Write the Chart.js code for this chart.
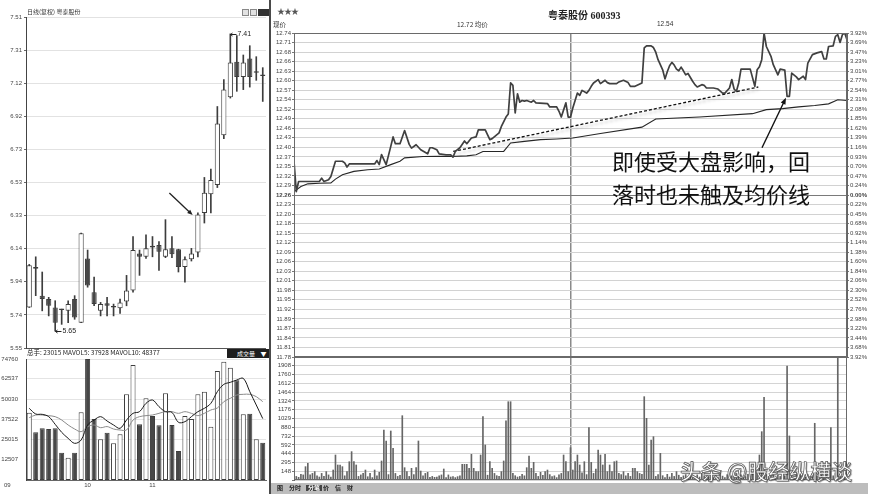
<!DOCTYPE html>
<html lang="zh-CN">
<head>
<meta charset="utf-8">
<title>粤泰股份 600393</title>
<script src="https://cdn.jsdelivr.net/npm/chart.js@4.4.1/dist/chart.umd.min.js"></script>
<style>
  html, body { margin: 0; padding: 0; background: #fff; }
  #board { position: relative; width: 877px; height: 494px; overflow: hidden; background: #fff;
           font-family: "Liberation Sans", Arial, "Noto Sans CJK SC", sans-serif; color: #333; }
  #board canvas { position: absolute; }
  .txt { position: absolute; white-space: nowrap; line-height: 1; }
  .cjk { font-family: "Noto Sans CJK SC", sans-serif; }
  .rule { position: absolute; background: #4a4a4a; }
  .icon { position: absolute; top: 9px; width: 7px; height: 7px; border: 1px solid #888; background: #e2e2e2; box-sizing: border-box; }
  #toolbar { position: absolute; left: 271px; top: 483px; width: 597px; height: 11px; background: #bdbdbd; }
  #toolbar span { position: absolute; top: 2px; font: bold 6px "Noto Sans CJK SC", sans-serif; color: #222; line-height: 1; }
  .note { position: absolute; white-space: nowrap; line-height: 1; font: 22px "Noto Sans CJK SC", sans-serif; color: #111; }
  .mark { position: absolute; white-space: nowrap; line-height: 1; font: 500 21px "Noto Sans CJK SC", sans-serif;
          color: #fff; -webkit-text-stroke: 0.7px #555; text-shadow: 1px 1px 1px rgba(0,0,0,0.45); }
</style>
</head>
<body>
<div id="board">
  <canvas id="kline" width="270" height="356" style="left:0;top:0"></canvas>
  <canvas id="kvol" width="270" height="145" style="left:0;top:349px"></canvas>
  <canvas id="tick" width="607" height="360" style="left:270px;top:0"></canvas>
  <canvas id="tvol" width="607" height="131" style="left:270px;top:352px"></canvas>

  <!-- daily panel headers -->
  <div class="txt cjk" style="left:27px;top:9px;font-size:6px;color:#333">日线(复权) 粤泰股份</div>
  <div class="icon" style="left:242px"></div>
  <div class="icon" style="left:250px"></div>
  <div class="icon" style="left:258px;width:11px;background:#333;border-color:#333"></div>
  <div id="volHeader" class="txt cjk" style="left:27px;top:349px;font-size:6.5px;color:#222"></div>
  <div class="txt cjk" style="left:227px;top:349px;width:42px;height:9px;background:#1e1e1e;color:#fff;font-size:6px;padding:1.5px 0 0 10px;box-sizing:border-box">成交量 &nbsp;&nbsp;&nbsp;▼</div>
  <div class="txt" style="left:4px;top:482px;font-size:6px;color:#444">09</div>

  <div class="rule" style="left:269px;top:0;width:2px;height:494px"></div>

  <!-- intraday panel headers -->
  <div class="txt" style="left:277px;top:8px;font-size:8px;color:#555;letter-spacing:-1px">★★★</div>
  <div class="txt" style="left:548px;top:7px;font:bold 10px 'Liberation Serif','Noto Sans CJK SC',serif;color:#222">粤泰股份 600393</div>
  <div class="txt cjk" style="left:273px;top:21px;font-size:6.5px;color:#333">现价</div>
  <div id="lastHeader" class="txt cjk" style="left:457px;top:21px;font-size:6.5px;color:#333"></div>
  <div id="avgHeader" class="txt" style="left:657px;top:21px;font-size:6.5px;color:#333"></div>

  <div class="note" style="left:612px;top:144px">即使受大盘影响，回</div>
  <div class="note" style="left:612px;top:177px">落时也未触及均价线</div>

  <div id="toolbar">
    <span style="left:6px">图</span>
    <span style="left:18px">分时</span>
    <span style="left:35px;background:#444;color:#fff;padding:0 2px">分笔</span>
    <span style="left:52px">价</span>
    <span style="left:64px">信</span>
    <span style="left:76px">财</span>
  </div>

  <div class="mark" style="left:680px;top:455px">头条 @股经纵横谈</div>
</div>

<script>
// ---------- daily candles ----------
const klineOpen  = [5.79, 6.03, 5.86, 5.84, 5.79, 5.78, 5.77, 5.84, 5.70, 6.08, 5.88, 5.77, 5.815, 5.79, 5.785, 5.825, 5.89, 6.11, 6.09, 6.155, 6.16, 6.09, 6.14, 6.135, 6.03, 6.075, 6.115, 6.35, 6.46, 6.515, 6.81, 7.035, 7.245, 7.155, 7.265, 7.18, 7.17];
const klineHigh  = [6.045, 6.09, 6.00, 5.85, 5.83, 5.78, 5.83, 5.86, 6.23, 6.13, 5.97, 5.82, 5.85, 5.81, 5.84, 5.98, 6.21, 6.13, 6.22, 6.21, 6.18, 6.31, 6.21, 6.135, 6.09, 6.14, 6.35, 6.56, 6.61, 6.98, 7.14, 7.41, 7.40, 7.285, 7.34, 7.275, 7.21];
const klineLow   = [5.79, 5.86, 5.77, 5.74, 5.65, 5.69, 5.70, 5.72, 5.70, 5.91, 5.80, 5.74, 5.74, 5.74, 5.755, 5.80, 5.88, 5.98, 6.08, 6.09, 6.01, 6.085, 6.085, 6.00, 5.94, 6.065, 6.09, 6.29, 6.35, 6.50, 6.79, 7.03, 7.07, 7.08, 7.095, 7.135, 7.01];
const klineClose = [6.04, 6.02, 5.84, 5.80, 5.70, 5.775, 5.81, 5.73, 6.23, 5.92, 5.81, 5.81, 5.80, 5.792, 5.82, 5.89, 6.13, 6.09, 6.14, 6.145, 6.12, 6.135, 6.105, 6.03, 6.075, 6.11, 6.34, 6.47, 6.545, 6.88, 7.08, 7.24, 7.155, 7.24, 7.155, 7.185, 7.16];
const klineVolume = [41600, 29450, 31920, 31510, 31920, 16890, 13800, 16890, 41810, 74760, 37690, 25130, 29240, 22650, 28215, 52930, 71050, 34390, 50460, 39540, 33780, 53550, 33980, 17920, 39540, 37690, 52930, 54580, 32950, 67350, 73110, 69400, 61580, 40570, 40980, 25130, 23015];
const mavol5  = [44280, 40780, 40570, 39130, 34390, 29450, 25740, 22650, 24710, 33980, 37070, 39130, 36450, 33980, 31920, 37070, 41190, 42220, 47370, 49430, 45310, 42220, 41810, 35630, 36040, 39130, 42220, 44280, 47370, 54580, 59110, 60340, 61790, 62810, 54580, 46340, 37928];
const mavol10 = [38510, 40160, 40160, 39750, 39130, 37070, 33980, 31510, 29860, 32950, 33980, 32330, 33000, 31500, 30890, 30890, 37070, 39130, 39750, 40160, 41190, 42220, 42220, 41190, 42220, 41190, 39750, 41190, 43250, 44500, 48400, 50460, 52520, 52930, 52930, 51490, 48377];
const klinePriceLabels = ['5.55', '5.74', '5.94', '6.14', '6.33', '6.53', '6.73', '6.92', '7.12', '7.31', '7.51'];
const klineVolTicks = [12507, 25015, 37522, 50030, 62537, 74760];
const monthMarks = [[9, '10'], [19, '11']];
const klineArrowFrom = [21.6, 6.468];
const klineArrowTo = [25.2, 6.337];

// ---------- intraday (minute 0 = 09:30, 240 = 15:00) ----------
const priceMinutes = [0, 1, 2, 11, 12, 13, 15, 16, 18, 21, 22, 23, 24, 35, 36, 37, 38, 39, 40, 42, 43, 44, 46, 48, 50, 51, 53, 55, 58, 59, 60, 62, 63, 66, 68, 69, 70, 72, 74, 75, 77, 79, 80, 83, 85, 86, 89, 90, 92, 93, 94, 95, 96, 97, 98, 99, 100, 101, 103, 104, 105, 110, 111, 114, 115, 116, 118, 119, 120, 121, 122, 123, 124, 125, 127, 128, 129, 130, 132, 133, 135, 136, 137, 140, 141, 143, 145, 146, 148, 151, 152, 153, 155, 156, 157, 158, 160, 161, 162, 163, 164, 165, 166, 167, 168, 169, 170, 171, 173, 174, 175, 177, 178, 179, 182, 184, 186, 187, 189, 190, 191, 192, 193, 194, 198, 200, 201, 202, 203, 204, 205, 207, 208, 210, 211, 213, 214, 215, 216, 218, 219, 221, 222, 223, 225, 227, 229, 230, 231, 232, 234, 235, 236, 237, 238, 239, 240];
const priceValues  = [12.36, 12.27, 12.30, 12.30, 12.31, 12.30, 12.305, 12.315, 12.36, 12.36, 12.355, 12.343, 12.352, 12.352, 12.362, 12.35, 12.38, 12.365, 12.35, 12.404, 12.432, 12.412, 12.412, 12.451, 12.41, 12.399, 12.409, 12.394, 12.382, 12.40, 12.40, 12.394, 12.382, 12.379, 12.379, 12.372, 12.389, 12.40, 12.42, 12.412, 12.429, 12.432, 12.453, 12.453, 12.424, 12.427, 12.444, 12.463, 12.491, 12.50, 12.592, 12.585, 12.503, 12.56, 12.535, 12.54, 12.538, 12.54, 12.535, 12.54, 12.533, 12.531, 12.521, 12.521, 12.508, 12.491, 12.533, 12.491, 12.491, 12.518, 12.54, 12.562, 12.555, 12.57, 12.562, 12.57, 12.582, 12.592, 12.602, 12.59, 12.60, 12.593, 12.59, 12.59, 12.595, 12.60, 12.593, 12.582, 12.582, 12.592, 12.696, 12.702, 12.702, 12.697, 12.683, 12.661, 12.631, 12.604, 12.625, 12.643, 12.653, 12.645, 12.633, 12.628, 12.639, 12.628, 12.616, 12.62, 12.597, 12.587, 12.58, 12.587, 12.585, 12.577, 12.577, 12.574, 12.562, 12.562, 12.577, 12.602, 12.574, 12.567, 12.592, 12.633, 12.633, 12.582, 12.631, 12.64, 12.661, 12.74, 12.70, 12.671, 12.646, 12.616, 12.633, 12.63, 12.552, 12.552, 12.621, 12.61, 12.602, 12.612, 12.602, 12.651, 12.676, 12.681, 12.685, 12.663, 12.663, 12.70, 12.702, 12.73, 12.735, 12.712, 12.735, 12.74, 12.72];
const avgMinutes = [0, 3, 6, 11, 16, 18, 21, 26, 32, 37, 42, 46, 48, 56, 63, 68, 75, 79, 82, 91, 94, 100, 107, 114, 121, 133, 151, 157, 176, 199, 205, 212, 219, 226, 232, 236, 240];
const avgValues  = [12.27, 12.285, 12.293, 12.295, 12.296, 12.307, 12.32, 12.33, 12.335, 12.337, 12.35, 12.36, 12.37, 12.374, 12.375, 12.374, 12.376, 12.379, 12.389, 12.389, 12.414, 12.419, 12.424, 12.426, 12.429, 12.442, 12.461, 12.485, 12.491, 12.501, 12.513, 12.516, 12.521, 12.525, 12.53, 12.542, 12.54];
const trendMinutes = [69.1, 201.5];
const trendValues  = [12.389, 12.58];
const tickVolume = [
  223, 60, 45, 95, 85, 223, 279, 85, 110, 140,
  70, 50, 110, 60, 140, 85, 50, 167, 418, 251,
  251, 223, 70, 140, 306, 474, 306, 251, 60, 85,
  110, 167, 55, 110, 40, 167, 70, 128, 318, 836,
  652, 90, 819, 530, 110, 60, 80, 1075, 206, 140,
  60, 195, 90, 206, 652, 150, 70, 110, 128, 45,
  60, 45, 50, 70, 85, 184, 40, 85, 50, 56,
  40, 56, 70, 262, 262, 262, 195, 429, 195, 140,
  140, 418, 1059, 585, 80, 306, 195, 110, 72, 60,
  140, 318, 987, 1309, 1309, 110, 72, 50, 60, 95,
  70, 206, 401, 195, 295, 110, 60, 128, 80, 140,
  167, 90, 56, 70, 40, 85, 110, 418, 306, 140,
  540, 167, 306, 418, 251, 120, 306, 90, 875, 295,
  110, 184, 502, 418, 251, 429, 140, 251, 140, 306,
  318, 110, 90, 140, 70, 110, 60, 195, 195, 140,
  110, 95, 1393, 1031, 251, 669, 724, 60, 90, 446,
  72, 40, 95, 50, 110, 60, 140, 80, 45, 70,
  90, 55, 120, 60, 40, 85, 50, 110, 70, 45,
  60, 95, 40, 75, 50, 120, 65, 40, 90, 55,
  70, 45, 110, 60, 85, 40, 55, 95, 60, 130,
  70, 110, 418, 808, 1380, 90, 60, 110, 75, 50,
  85, 60, 140, 70, 1906, 736, 95, 60, 110, 50,
  75, 60, 45, 90, 60, 110, 948, 70, 50, 85,
  60, 95, 140, 875, 70, 110, 2040, 90, 60, 75,
  80
];
const priceLabels = ['12.74', '12.71', '12.68', '12.66', '12.63', '12.60', '12.57', '12.54', '12.52', '12.49', '12.46', '12.43', '12.40', '12.37', '12.35', '12.32', '12.29', '12.26',
                     '12.23', '12.20', '12.18', '12.15', '12.12', '12.09', '12.06', '12.03', '12.01', '11.98', '11.95', '11.92', '11.89', '11.87', '11.84', '11.81', '11.78'];
const pctLabels = ['3.92%', '3.69%', '3.47%', '3.23%', '3.01%', '2.77%', '2.54%', '2.31%', '2.08%', '1.85%', '1.62%', '1.39%', '1.16%', '0.93%', '0.70%', '0.47%', '0.24%', '0.00%',
                   '0.22%', '0.45%', '0.68%', '0.92%', '1.14%', '1.38%', '1.60%', '1.84%', '2.06%', '2.30%', '2.52%', '2.76%', '2.98%', '3.22%', '3.44%', '3.68%', '3.92%'];
const tickVolLabels = ['148', '295', '444', '592', '732', '880', '1029', '1176', '1324', '1464', '1612', '1760', '1908'];
const priceMin = 11.78, priceMax = 12.74, volTop = 2056;
const tickArrowFrom = [203.1, 12.40];
const tickArrowTo = [213.5, 12.548];

// ---------- shared setup ----------
const FONT = '"Liberation Sans", Arial, sans-serif';
Chart.defaults.font.family = FONT;
Chart.defaults.color = '#444';
Chart.defaults.animation = false;
Chart.defaults.events = [];
Chart.defaults.plugins.legend.display = false;
Chart.defaults.plugins.tooltip.enabled = false;

const sessions = klineOpen.map((_, i) => String(i + 1));
const isUp = (i) => klineClose[i] >= klineOpen[i];
const axisWidth = (w) => (s) => { s.width = w; s.paddingTop = 0; s.paddingBottom = 0; };
const axisHeight = (h) => (s) => { s.height = h; s.paddingLeft = 0; s.paddingRight = 0; };
const evenTicks = (n, min, max) => Array.from({ length: n + 1 }, (_, k) => ({ value: min + (max - min) * k / n }));
const pts = (xs, ys) => xs.map((x, i) => ({ x, y: ys[i] }));
const monthLabelAt = (i) => { const m = monthMarks.find(p => p[0] === i); return m ? m[1] : ''; };

function drawArrow(ctx, x0, y0, x1, y1, head) {
  const a = Math.atan2(y1 - y0, x1 - x0);
  ctx.beginPath();
  ctx.moveTo(x0, y0);
  ctx.lineTo(x1 - Math.cos(a) * head * 0.7, y1 - Math.sin(a) * head * 0.7);
  ctx.stroke();
  ctx.beginPath();
  ctx.moveTo(x1, y1);
  ctx.lineTo(x1 - head * Math.cos(a - 0.38), y1 - head * Math.sin(a - 0.38));
  ctx.lineTo(x1 - head * Math.cos(a + 0.38), y1 - head * Math.sin(a + 0.38));
  ctx.closePath();
  ctx.fill();
}

// plot frame
const frame = {
  id: 'frame',
  afterDraw(chart) {
    const { ctx, chartArea: a } = chart;
    ctx.save();
    ctx.strokeStyle = '#6a6a6a';
    ctx.lineWidth = 1;
    ctx.strokeRect(Math.round(a.left) + 0.5, Math.round(a.top) + 0.5, Math.round(a.width) - 1, Math.round(a.height) - 1);
    ctx.restore();
  }
};

// high / low call-outs and the arrow on the daily candles
const klineNotes = {
  id: 'klineNotes',
  afterDatasetsDraw(chart) {
    const { ctx, scales: { x, y } } = chart;
    const hi = Math.max(...klineHigh), hiAt = klineHigh.indexOf(hi);
    const lo = Math.min(...klineLow), loAt = klineLow.indexOf(lo);
    ctx.save();
    ctx.strokeStyle = '#222';
    ctx.fillStyle = '#222';
    ctx.lineWidth = 1;
    ctx.font = '7px ' + FONT;
    ctx.textBaseline = 'middle';
    [[hiAt, hi], [loAt, lo]].forEach(([i, v]) => {
      const px = Math.round(x.getPixelForValue(i)) + 0.5;
      const py = Math.round(y.getPixelForValue(v)) + 0.5;
      ctx.beginPath();
      ctx.moveTo(px, py); ctx.lineTo(px + 6, py);
      ctx.moveTo(px + 2, py - 1.5); ctx.lineTo(px, py); ctx.lineTo(px + 2, py + 1.5);
      ctx.stroke();
      ctx.fillText(v.toFixed(2), px + 7, py);
    });
    ctx.lineWidth = 1.3;
    drawArrow(ctx,
      x.getPixelForValue(klineArrowFrom[0]), y.getPixelForValue(klineArrowFrom[1]),
      x.getPixelForValue(klineArrowTo[0]), y.getPixelForValue(klineArrowTo[1]), 6);
    ctx.restore();
  }
};

// trend-line shadow and the pointer arrow on the intraday chart
const tickDecor = {
  id: 'tickDecor',
  beforeDatasetDraw(chart, args) {
    if (chart.data.datasets[args.index].shadow) {
      const ctx = chart.ctx;
      ctx.save();
      ctx.shadowColor = 'rgba(0,0,0,0.25)';
      ctx.shadowBlur = 3;
      ctx.shadowOffsetY = 3;
    }
  },
  afterDatasetDraw(chart, args) {
    if (chart.data.datasets[args.index].shadow) chart.ctx.restore();
  },
  afterDatasetsDraw(chart) {
    const { ctx, scales: { x, y } } = chart;
    ctx.save();
    ctx.strokeStyle = '#111';
    ctx.fillStyle = '#111';
    ctx.lineWidth = 1.4;
    drawArrow(ctx,
      x.getPixelForValue(tickArrowFrom[0]), y.getPixelForValue(tickArrowFrom[1]),
      x.getPixelForValue(tickArrowTo[0]), y.getPixelForValue(tickArrowTo[1]), 7);
    ctx.restore();
  }
};

// ---------- daily candlesticks ----------
new Chart(document.getElementById('kline'), {
  type: 'bar',
  data: {
    labels: sessions,
    datasets: [
      {
        data: klineOpen.map((o, i) => [o, klineClose[i]]),
        grouped: false, barPercentage: 0.8, categoryPercentage: 1,
        backgroundColor: (c) => isUp(c.dataIndex) ? '#ffffff' : '#474747',
        borderColor: '#3d3d3d', borderWidth: 1, borderSkipped: false, minBarLength: 1.5
      },
      {
        data: klineLow.map((l, i) => [l, klineHigh[i]]),
        grouped: false, barThickness: 1, backgroundColor: '#3d3d3d', borderWidth: 0
      }
    ]
  },
  options: {
    responsive: false,
    layout: { padding: { top: 17, bottom: 8, left: 0, right: 4 } },
    scales: {
      x: { display: false, offset: true },
      y: {
        min: 5.55, max: 7.51,
        afterFit: axisWidth(26),
        afterBuildTicks: (s) => { s.ticks = evenTicks(10, 5.55, 7.51); },
        ticks: { callback: (v, i) => klinePriceLabels[i], font: { size: 6 }, padding: 2, autoSkip: false, color: '#444' },
        grid: { color: (c) => c.index === 0 ? '#555' : '#e2e2e2', tickLength: 2, tickColor: '#666' },
        border: { color: '#444' }
      }
    }
  },
  plugins: [klineNotes]
});

// ---------- daily volume ----------
new Chart(document.getElementById('kvol'), {
  type: 'bar',
  data: {
    labels: sessions,
    datasets: [
      { type: 'line', data: mavol5, borderColor: '#1a1a1a', borderWidth: 1, pointRadius: 0, tension: 0.35 },
      { type: 'line', data: mavol10, borderColor: '#8a8a8a', borderWidth: 1, pointRadius: 0, tension: 0.35 },
      {
        data: klineVolume, barPercentage: 0.78, categoryPercentage: 1,
        backgroundColor: (c) => isUp(c.dataIndex) ? '#ffffff' : '#474747',
        borderColor: '#3d3d3d', borderWidth: 1, borderSkipped: false
      }
    ]
  },
  options: {
    responsive: false,
    layout: { padding: { top: 10, bottom: 0, left: 0, right: 4 } },
    scales: {
      x: {
        offset: true, afterFit: axisHeight(14),
        grid: { display: false, drawTicks: false }, border: { color: '#666' },
        ticks: { autoSkip: false, maxRotation: 0, padding: 2, font: { size: 6 }, callback: (v, i) => monthLabelAt(i) }
      },
      y: {
        min: 0, max: klineVolTicks[klineVolTicks.length - 1],
        afterFit: axisWidth(26),
        afterBuildTicks: (s) => { s.ticks = klineVolTicks.map(v => ({ value: v })); },
        ticks: { font: { size: 6 }, padding: 8, autoSkip: false, callback: (v) => String(v) },
        grid: { color: '#e4e4e4', drawTicks: false },
        border: { color: '#444' }
      }
    }
  }
});

// ---------- intraday price and average price ----------
const priceTickFont = (c) => ({ size: 6, family: FONT, weight: c.index === 17 ? 'bold' : 'normal' });
new Chart(document.getElementById('tick'), {
  type: 'line',
  data: {
    datasets: [
      { data: pts(priceMinutes, priceValues), borderColor: '#404040', borderWidth: 1.7, pointRadius: 0, borderJoinStyle: 'round' },
      { data: pts(avgMinutes, avgValues), borderColor: '#262626', borderWidth: 1.1, pointRadius: 0 },
      { data: pts(trendMinutes, trendValues), borderColor: '#111', borderWidth: 1.3, borderDash: [3, 2], pointRadius: 0, shadow: true }
    ]
  },
  options: {
    responsive: false,
    layout: { padding: { top: 33, bottom: 3, left: 0, right: 0 } },
    scales: {
      x: {
        type: 'linear', min: 0, max: 240, afterFit: axisHeight(0),
        afterBuildTicks: (s) => { s.ticks = [{ value: 120 }]; },
        ticks: { display: false },
        grid: { color: '#8a8a8a', lineWidth: 1.5, drawTicks: false },
        border: { display: false }
      },
      y: {
        position: 'left', min: priceMin, max: priceMax,
        afterFit: axisWidth(24),
        afterBuildTicks: (s) => { s.ticks = evenTicks(34, priceMin, priceMax); },
        ticks: { callback: (v, i) => priceLabels[34 - i], font: priceTickFont, padding: 1, autoSkip: false, color: '#444' },
        grid: { color: (c) => c.index === 17 ? '#7a7a7a' : '#d2d2d2', tickLength: 2, tickColor: '#777' },
        border: { color: '#666' }
      },
      yPct: {
        position: 'right', min: priceMin, max: priceMax,
        afterFit: axisWidth(30),
        afterBuildTicks: (s) => { s.ticks = evenTicks(34, priceMin, priceMax); },
        ticks: { callback: (v, i) => pctLabels[34 - i], font: priceTickFont, padding: 1, autoSkip: false, color: '#444' },
        grid: { drawOnChartArea: false, tickLength: 2, tickColor: '#777' },
        border: { color: '#666' }
      }
    }
  },
  plugins: [tickDecor, frame]
});

// ---------- intraday volume ----------
new Chart(document.getElementById('tvol'), {
  type: 'bar',
  data: {
    datasets: [{ data: tickVolume.map((v, i) => ({ x: i, y: v })), backgroundColor: '#666', barThickness: 1 }]
  },
  options: {
    responsive: false,
    layout: { padding: { top: 5, bottom: 3, left: 0, right: 30 } },
    scales: {
      x: {
        type: 'linear', min: 0, max: 240, offset: false, afterFit: axisHeight(0),
        afterBuildTicks: (s) => { s.ticks = [{ value: 120 }]; },
        ticks: { display: false },
        grid: { offset: false, color: '#8a8a8a', lineWidth: 1.5, drawTicks: false },
        border: { display: false }
      },
      y: {
        min: 0, max: volTop,
        afterFit: axisWidth(24),
        afterBuildTicks: (s) => { s.ticks = evenTicks(14, 0, volTop); },
        ticks: { callback: (v, i) => tickVolLabels[i - 1] || '', font: { size: 6 }, padding: 1, autoSkip: false, color: '#444' },
        grid: { color: '#d4d4d4', tickLength: 2, tickColor: '#777' },
        border: { color: '#666' }
      }
    }
  },
  plugins: [frame]
});

// header read-outs
document.getElementById('volHeader').textContent =
  '总手: ' + klineVolume[klineVolume.length - 1] + ' MAVOL5: ' + mavol5[mavol5.length - 1] + ' MAVOL10: ' + mavol10[mavol10.length - 1];
document.getElementById('lastHeader').textContent = priceValues[priceValues.length - 1].toFixed(2) + ' 均价';
document.getElementById('avgHeader').textContent = avgValues[avgValues.length - 1].toFixed(2);
</script>
</body>
</html>
